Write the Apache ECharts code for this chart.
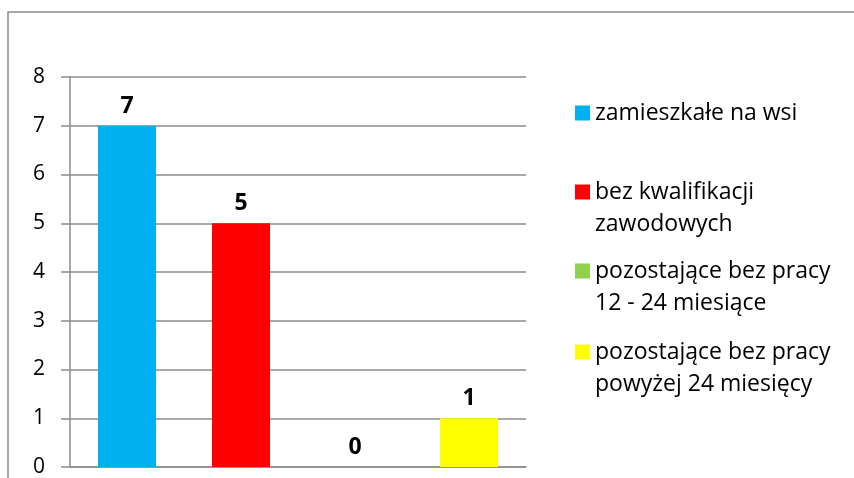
<!DOCTYPE html>
<html>
<head>
<meta charset="utf-8">
<script src="https://cdn.jsdelivr.net/npm/echarts@6/dist/echarts.min.js"></script>
<style>
  html, body { margin: 0; padding: 0; background: #fff; }
  #chart { width: 854px; height: 478px; }
</style>
</head>
<body>
<div id="chart"></div>
<script>
// categories (one bar each, shown in the legend)
const categories = [
  'zamieszkałe na wsi',
  'bez kwalifikacji zawodowych',
  'pozostające bez pracy 12 - 24 miesiące',
  'pozostające bez pracy powyżej 24 miesięcy'
];
// legend text as wrapped in the picture
const legendLabels = [
  'zamieszkałe na wsi',
  'bez kwalifikacji\nzawodowych',
  'pozostające bez pracy\n12 - 24 miesiące',
  'pozostające bez pracy\npowyżej 24 miesięcy'
];
const values = [7, 5, 0, 1];
const colors = ['#00B0F0', '#FF0000', '#92D050', '#FFFF00'];
const yTicks = [0, 1, 2, 3, 4, 5, 6, 7, 8];

const FONT = '"Open Sans", sans-serif';
const gridColor = '#8c8c8c';

const chart = echarts.init(document.getElementById('chart'));

// each category is its own series so that the legend gets one entry per bar
const series = categories.map((name, i) => ({
  name: name,
  type: 'bar',
  stack: 'all',
  barWidth: 58,
  itemStyle: { color: colors[i] },
  label: {
    show: true,
    position: 'top',
    distance: 8,
    fontFamily: FONT,
    fontSize: 23,
    fontWeight: 'bold',
    color: '#000'
  },
  data: values.map((v, j) => (j === i ? v : '-'))
}));

// legend item centre heights (first line of each entry)
const legendCentres = [113, 192, 271, 352];
const legends = categories.map((name, i) => {
  const twoLines = legendLabels[i].indexOf('\n') >= 0;
  return {
    data: [name],
    left: 575,
    top: legendCentres[i] - (twoLines ? 48 : 16),
    padding: 0,
    icon: 'rect',
    itemWidth: 15,
    itemHeight: 15,
    itemGap: 0,
    selectedMode: false,
    // leading empty line keeps the icon next to the first text line
    formatter: () => (twoLines ? '\n' : '') + legendLabels[i],
    textStyle: {
      fontFamily: FONT,
      fontSize: 23,
      lineHeight: 32,
      color: '#000'
    }
  };
});

chart.setOption({
  animation: false,
  backgroundColor: '#fff',
  grid: { left: 70, right: 328, top: 77, bottom: 11 },
  xAxis: {
    type: 'category',
    data: categories,
    axisLine: { lineStyle: { color: gridColor, width: 1.5 } },
    axisTick: { show: false },
    axisLabel: { show: false }
  },
  yAxis: {
    type: 'value',
    min: yTicks[0],
    max: yTicks[yTicks.length - 1],
    interval: 1,
    axisLine: { show: true, lineStyle: { color: gridColor, width: 1.5 } },
    axisTick: { show: true, length: 9, lineStyle: { color: gridColor, width: 1.5 } },
    axisLabel: { margin: 25, fontFamily: FONT, fontSize: 21, color: '#000' },
    splitLine: { lineStyle: { color: gridColor, width: 1.5 } }
  },
  legend: legends,
  graphic: [{
    type: 'rect',
    shape: { x: 8, y: 12, width: 900, height: 520 },
    style: { fill: 'none', stroke: gridColor, lineWidth: 1.5 },
    silent: true
  }],
  series: series
});
</script>
</body>
</html>
